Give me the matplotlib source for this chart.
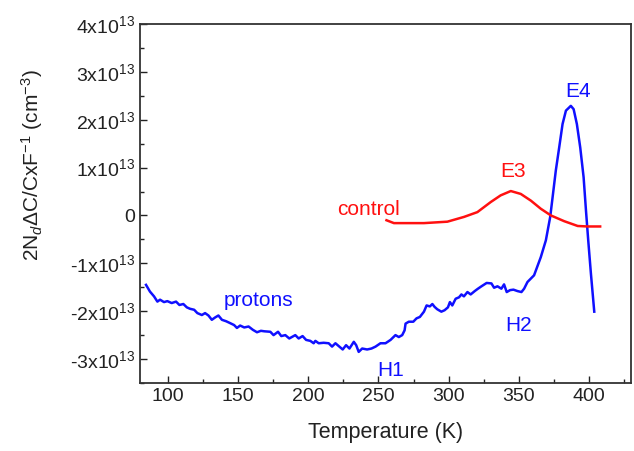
import matplotlib
matplotlib.use('Agg')
import matplotlib.pyplot as plt
from matplotlib.ticker import MultipleLocator, FixedLocator, FixedFormatter

plt.rcParams['font.family'] = ['Liberation Sans', 'DejaVu Sans']
plt.rcParams['mathtext.fontset'] = 'custom'
plt.rcParams['mathtext.rm'] = 'Liberation Sans'
plt.rcParams['mathtext.it'] = 'Liberation Sans:italic'

# protons curve (blue), y in units of 1e13 cm^-3
t_prot = [84.3, 87.1, 90.0, 92.4, 94.3, 97.1, 99.5, 102.6, 105.7, 108.1, 110.9, 113.4,
          115.7, 118.6, 120.9, 124.1, 126.4, 128.8, 131.2, 133.6, 135.9, 138.4, 141.4,
          144.3, 147.1, 149.1, 151.4, 154.3, 157.4, 160.5, 163.4, 166.2, 168.6,
          172.9, 175.2, 178.4, 180.7, 183.6, 186.4, 190.7, 193.1, 195.9, 198.4, 201.4,
          203.8, 205.0, 207.4, 210.9, 214.5, 216.9, 219.3, 222.1, 224.5, 226.9, 229.3,
          232.4, 234.1, 235.9, 238.4, 241.9, 245.0, 247.9, 251.4, 255.0, 258.6, 262.1,
          264.5, 266.9, 268.6, 269.3, 271.6, 274.8, 277.1, 279.5, 282.4, 284.3, 286.6,
          288.4, 290.0, 291.9, 294.8, 297.1, 299.5, 300.9, 302.6, 305.0, 307.4, 309.1,
          310.9, 313.4, 315.7, 318.6, 320.9, 323.4, 327.1, 330.5, 332.4, 334.8, 337.6,
          339.5, 341.4, 343.8, 346.2, 349.1, 351.9, 353.8, 356.2, 360.9, 365.7, 369.3,
          372.4, 374.1, 376.4, 378.8, 381.2, 383.6, 387.1, 389.1, 391.4, 393.8, 396.2,
          397.9, 399.5, 401.4, 403.8]
y_prot = [-1.45, -1.59, -1.69, -1.80, -1.76, -1.81, -1.79, -1.83, -1.80, -1.87, -1.85, -1.92,
          -1.95, -1.97, -2.04, -2.08, -2.04, -2.09, -2.18, -2.13, -2.09, -2.18, -2.21,
          -2.25, -2.29, -2.35, -2.30, -2.34, -2.32, -2.39, -2.44, -2.41, -2.42,
          -2.43, -2.50, -2.43, -2.52, -2.50, -2.57, -2.50, -2.57, -2.52, -2.60, -2.62,
          -2.67, -2.62, -2.67, -2.66, -2.67, -2.74, -2.67, -2.74, -2.80, -2.71, -2.78,
          -2.64, -2.71, -2.85, -2.78, -2.80, -2.78, -2.74, -2.67, -2.67, -2.60, -2.50,
          -2.54, -2.50, -2.40, -2.26, -2.22, -2.22, -2.15, -2.12, -2.01, -1.88, -1.90,
          -1.85, -1.91, -1.96, -2.01, -1.98, -1.92, -1.81, -1.88, -1.74, -1.71, -1.65,
          -1.69, -1.60, -1.65, -1.58, -1.53, -1.48, -1.41, -1.42, -1.51, -1.48, -1.53,
          -1.44, -1.60, -1.56, -1.55, -1.58, -1.60, -1.53, -1.39, -1.25, -0.87, -0.52,
          -0.03, 0.38, 0.94, 1.42, 1.91, 2.19, 2.29, 2.22, 1.91, 1.42, 0.80,
          0.10, -0.52, -1.21, -2.01]

# control curve (red)
t_ctrl = [255.7, 261.0, 282.4, 299.1, 311.0, 320.5, 330.0, 337.1, 344.3, 351.4, 358.6,
          365.7, 372.9, 382.4, 392.0, 399.0, 408.0]
y_ctrl = [-0.10, -0.16, -0.16, -0.13, -0.03, 0.07, 0.28, 0.42, 0.51, 0.45, 0.31,
          0.14, 0.0, -0.12, -0.22, -0.23, -0.23]

ytick_vals = [-3, -2, -1, 0, 1, 2, 3, 4]
ytick_labels = ['-3x10$^{13}$', '-2x10$^{13}$', '-1x10$^{13}$', '0',
                '1x10$^{13}$', '2x10$^{13}$', '3x10$^{13}$', '4x10$^{13}$']

fig = plt.figure(figsize=(6.34, 4.51), dpi=100)
ax = fig.add_axes([0.2208, 0.1508, 0.7745, 0.796])

ax.plot(t_prot, y_prot, color='#1010ff', lw=1.8)
ax.plot(t_ctrl, y_ctrl, color='#ff1010', lw=1.8)

ax.set_xlim(80, 430)
ax.set_ylim(-3.5, 4)
ax.xaxis.set_minor_locator(MultipleLocator(25))
ax.set_xticks([100, 150, 200, 250, 300, 350, 400])
ax.yaxis.set_major_locator(FixedLocator(ytick_vals))
ax.yaxis.set_major_formatter(FixedFormatter(ytick_labels))
ax.yaxis.set_minor_locator(MultipleLocator(0.5))
ax.tick_params(which='both', direction='in', top=False, right=False, labelsize=14,
               colors='#222222')
ax.tick_params(which='major', length=5, width=1)
ax.tick_params(which='minor', length=3, width=1)
for s in ax.spines.values():
    s.set_linewidth(1.3)
    s.set_color('#333333')

ax.set_xlabel('Temperature (K)', fontsize=15.5, color='#222222', labelpad=12)
ax.set_ylabel(r'2N$_d\Delta$C/CxF$^{-1}$ (cm$^{-3}$)', fontsize=15, color='#222222')
ax.yaxis.set_label_coords(-0.193, 0.607)

fs = 15
ax.text(164.5, -1.77, 'protons', color='#1010ff', fontsize=fs, ha='center', va='center')
ax.text(243, 0.12, 'control', color='#ff1010', fontsize=fs, ha='center', va='center')
ax.text(346, 0.92, 'E3', color='#ff1010', fontsize=fs, ha='center', va='center')
ax.text(392, 2.6, 'E4', color='#1010ff', fontsize=fs, ha='center', va='center')
ax.text(350, -2.3, 'H2', color='#1010ff', fontsize=fs, ha='center', va='center')
ax.text(258.6, -3.24, 'H1', color='#1010ff', fontsize=fs, ha='center', va='center')

fig.savefig('out.png', dpi=100)
